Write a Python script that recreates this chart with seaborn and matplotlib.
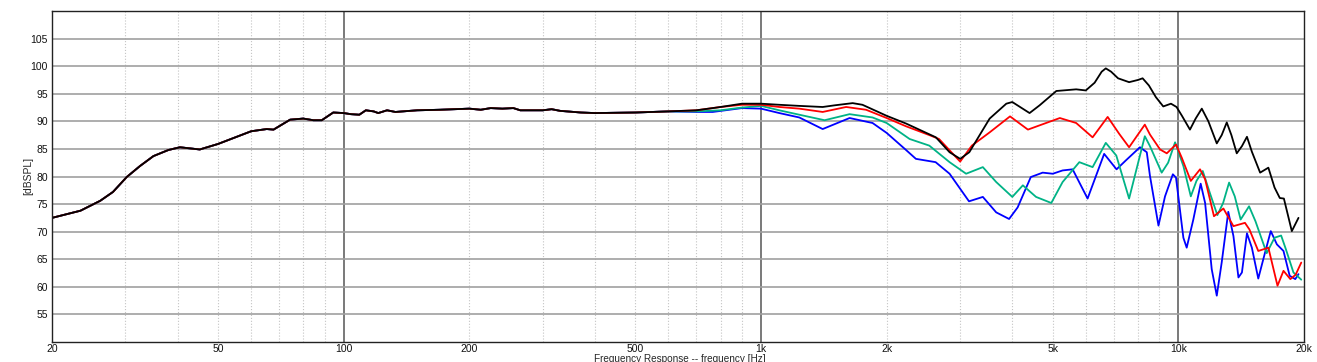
import numpy as np
import pandas as pd
import matplotlib.pyplot as plt
import seaborn as sns

sns.set_style("white")
plt.rcParams['font.family'] = ['Liberation Sans', 'DejaVu Sans']

# shared part of all four curves (below ~600 Hz they sit on top of each other)
low_freq = [20, 23.4, 26.1, 28, 30.2, 32.5, 35, 38, 40.5, 45.2, 50, 60, 65.4, 67.9, 74.4, 80, 84.6,
            88.6, 94.4, 100, 104, 109, 113, 118, 121, 127, 133, 150, 170, 200, 213, 225, 240, 255,
            265, 300, 315, 330, 370, 400, 500, 600]
low_db = [72.5, 73.8, 75.6, 77.2, 79.9, 81.9, 83.7, 84.8, 85.3, 84.9, 85.9, 88.2, 88.6, 88.5, 90.3, 90.5, 90.2,
          90.2, 91.6, 91.5, 91.3, 91.2, 92.0, 91.8, 91.5, 92.0, 91.7, 92.0, 92.1, 92.3, 92.1, 92.4, 92.3, 92.4,
          92.0, 92.0, 92.2, 91.9, 91.6, 91.5, 91.6, 91.8]

black_freq = [700, 766, 800, 900, 1000, 1106, 1235, 1405, 1500, 1658, 1750, 2000, 2226, 2624, 2830, 3000,
              3155, 3530, 3870, 4000, 4400, 4650, 5100, 5690, 6000, 6300, 6550, 6700, 6900, 7170, 7620,
              8000, 8210, 8500, 8830, 9200, 9600, 9900, 10200, 10660, 11000, 11380, 11800, 12360, 12700,
              13060, 13400, 13800, 14200, 14600, 15000, 15700, 16430, 17000, 17500, 17900, 18700, 19400]
black_db = [92.0, 92.4, 92.6, 93.2, 93.2, 93.0, 92.8, 92.6, 92.9, 93.3, 93.0, 91.0, 89.6, 87.1, 84.4, 83.2,
            84.4, 90.5, 93.2, 93.5, 91.5, 92.9, 95.5, 95.8, 95.6, 97.0, 99.0, 99.6, 99.0, 97.8, 97.1,
            97.5, 97.8, 96.5, 94.4, 92.7, 93.2, 92.6, 91.0, 88.5, 90.5, 92.3, 90.0, 86.0, 87.5,
            89.8, 87.5, 84.2, 85.5, 87.2, 84.5, 80.7, 81.6, 78.0, 76.1, 76.0, 70.1, 72.5]

red_freq = [700, 800, 900, 1000, 1106, 1235, 1405, 1599, 1785, 2000, 2226, 2532, 2670, 3000, 3200, 3530,
            3950, 4360, 4700, 5200, 5690, 6230, 6770, 7220, 7620, 8310, 8550, 9040, 9380, 9870, 10190,
            10710, 11270, 11590, 12170, 12820, 13550, 14440, 14800, 15540, 16430, 17280, 17860, 18550,
            19100, 19700]
red_db = [92.0, 92.6, 93.0, 93.0, 92.6, 92.3, 91.7, 92.6, 92.1, 90.6, 89.1, 87.5, 86.8, 82.7, 85.6, 88.0,
          90.9, 88.5, 89.4, 90.6, 89.7, 87.1, 90.8, 87.7, 85.3, 89.4, 87.6, 84.9, 84.2, 85.8, 83.4,
          79.2, 81.3, 79.5, 72.8, 74.2, 71.0, 71.6, 70.4, 66.5, 67.1, 60.2, 62.9, 61.4,
          62.2, 64.4]

green_freq = [700, 800, 900, 1000, 1106, 1235, 1420, 1630, 1850, 2000, 2270, 2530, 2830, 3100, 3400, 3660,
              4000, 4240, 4560, 4960, 5280, 5790, 6230, 6700, 7100, 7620, 8310, 8550, 9120, 9450, 9820,
              10280, 10710, 11050, 11440, 11900, 12400, 12800, 13230, 13650, 14100, 14770, 15300, 16280,
              17000, 17630, 18100, 18870, 19700]
green_db = [91.8, 92.0, 92.5, 92.8, 92.0, 91.2, 90.2, 91.3, 90.7, 89.7, 86.8, 85.6, 82.6, 80.5, 81.7, 79.0,
            76.3, 78.4, 76.3, 75.2, 79.0, 82.6, 81.7, 86.1, 83.8, 76.0, 87.3, 85.5, 80.7, 82.5, 86.2,
            81.9, 76.4, 79.2, 81.0, 77.0, 73.0, 75.2, 78.9, 76.4, 72.2, 74.6, 71.9, 66.1,
            68.9, 69.3, 66.8, 62.6, 61.3]

blue_freq = [700, 766, 900, 1000, 1106, 1235, 1405, 1630, 1850, 2000, 2226, 2350, 2620, 2830, 3150, 3400,
             3660, 3930, 4120, 4430, 4730, 5000, 5280, 5580, 6060, 6640, 7110, 7480, 8090, 8400, 8550,
             8960, 9290, 9700, 9870, 10280, 10470, 10860, 11310, 11590, 12020, 12360, 12700, 13170, 13550,
             13930, 14200, 14600, 15000, 15540, 16130, 16650, 17220, 17860, 18480, 19060, 19400]
blue_db = [91.7, 91.7, 92.4, 92.3, 91.5, 90.7, 88.6, 90.6, 89.7, 87.9, 84.8, 83.2, 82.6, 80.5, 75.5, 76.3,
           73.5, 72.3, 74.4, 79.9, 80.7, 80.5, 81.1, 81.3, 76.0, 84.1, 81.3, 82.9, 85.3, 84.4, 80.1,
           71.1, 76.4, 80.4, 79.8, 68.9, 67.1, 72.2, 78.7, 75.2, 63.2, 58.4, 64.4, 73.6, 69.2,
           61.7, 62.6, 69.7, 67.1, 61.5, 66.2, 70.1, 67.7, 66.5, 62.0, 61.4, 62.3]

curves = [('blue', blue_freq, blue_db), ('green', green_freq, green_db),
          ('red', red_freq, red_db), ('black', black_freq, black_db)]
frames = []
for name, f, d in curves:
    frames.append(pd.DataFrame({'freq': low_freq + f, 'dB': low_db + d, 'curve': name}))
df = pd.concat(frames, ignore_index=True)

palette = {'blue': '#0000ff', 'green': '#00b386', 'red': '#ff0000', 'black': '#000000'}

fig = plt.figure(figsize=(13.17, 3.62), dpi=100)
ax = fig.add_axes([52/1317, 20/362, 1252/1317, 331/362])

# grid first, under the curves
for dec in [10, 100, 1000, 10000]:
    for m in range(2, 10):
        f = m * dec
        if 20 < f < 20000:
            ax.axvline(f, color='#c4c4c4', lw=0.8, ls=':', zorder=0)
for f in [100, 1000, 10000]:
    ax.axvline(f, color='#6e6e6e', lw=1.3, zorder=0)

sns.lineplot(data=df, x='freq', y='dB', hue='curve', hue_order=['blue', 'green', 'red', 'black'],
             palette=palette, estimator=None, sort=False, lw=1.3, legend=False, ax=ax,
             solid_joinstyle='round', solid_capstyle='round')

ax.set_xscale('log')
ax.set_xlim(20, 20000)
ax.set_ylim(50, 110)
xt = [20, 50, 100, 200, 500, 1000, 2000, 5000, 10000, 20000]
ax.set_xticks(xt)
ax.set_xticklabels(['20', '50', '100', '200', '500', '1k', '2k', '5k', '10k', '20k'])
ax.xaxis.set_minor_locator(plt.NullLocator())
ax.set_yticks(range(55, 110, 5))
ax.yaxis.grid(True, color='#a0a0a0', lw=1.2, zorder=0)
ax.xaxis.grid(False)
ax.set_axisbelow(True)
ax.tick_params(axis='y', length=0, labelsize=7.5, pad=3, colors='#111111')
ax.tick_params(axis='x', length=0, labelsize=7.5, pad=1.5, colors='#111111')
ax.set_xlabel('')
ax.set_ylabel('')
for s in ax.spines.values():
    s.set_color('#222222')
    s.set_linewidth(1.0)

fig.text(680/1317, 1 - 359.5/362, 'Frequency Response -- frequency [Hz]', ha='center', va='center', fontsize=7.2)
fig.text(28/1317, 1 - 176/362, '[dBSPL]', ha='center', va='center', rotation=90, fontsize=7.5)

fig.savefig('out.png', dpi=100)
